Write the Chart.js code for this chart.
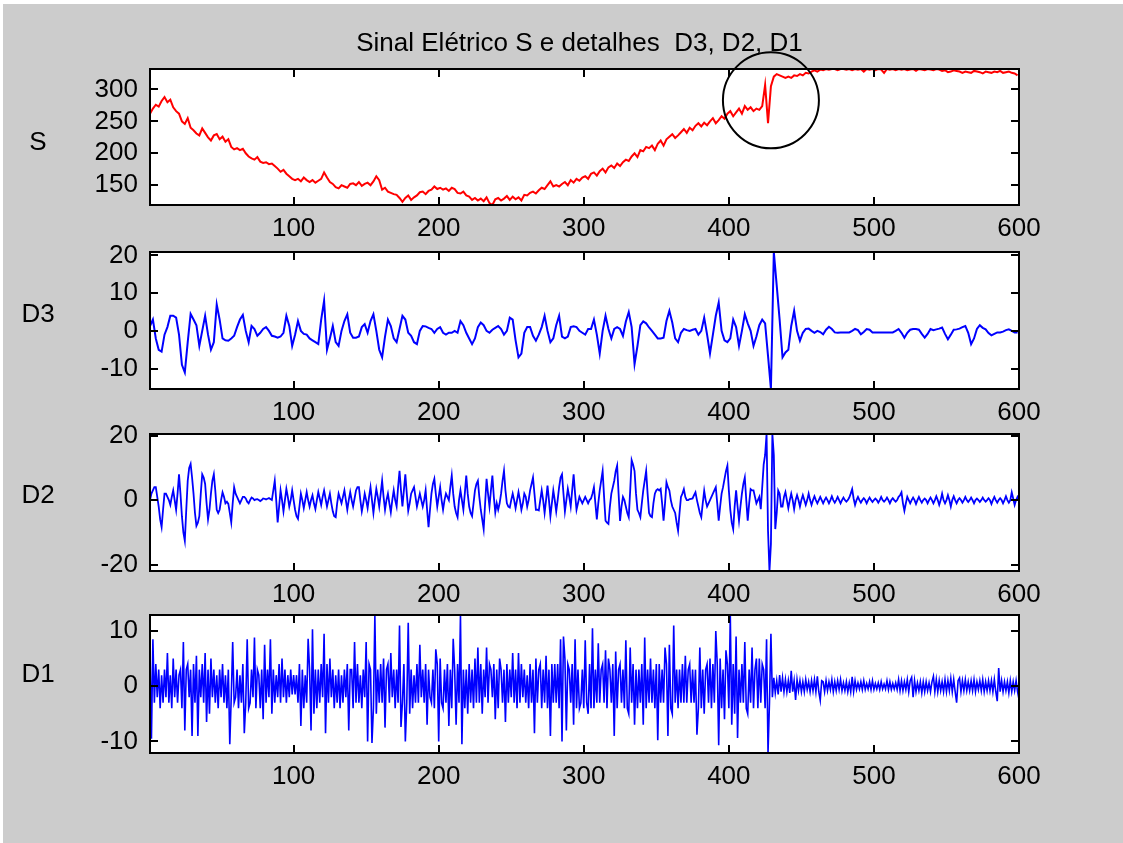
<!DOCTYPE html>
<html>
<head>
<meta charset="utf-8">
<title>Sinal Elétrico S e detalhes D3, D2, D1</title>
<script src="https://cdn.jsdelivr.net/npm/chart.js@4.4.0/dist/chart.umd.min.js"></script>
<style>
  body { margin: 0; background: #ffffff; }
  #fig { position: absolute; left: 3px; top: 4px; width: 1120px; height: 839px; background: #cccccc; }
  canvas { position: absolute; left: 0; top: 0; }
</style>
</head>
<body>
<div id="fig"></div>
<canvas id="cS" width="1123" height="843"></canvas>
<canvas id="cD3" width="1123" height="843"></canvas>
<canvas id="cD2" width="1123" height="843"></canvas>
<canvas id="cD1" width="1123" height="843"></canvas>
<script>
// first sample index; S and D3 keep every other sample, D2 and D1 every sample
const X_START = 1;

const xTicks = [100, 200, 300, 400, 500, 600];

// signal S, samples 1, 3, 5, ... 599
const sValues = [
  262, 270, 276, 273, 282, 288, 280, 284, 272, 266,
  262, 250, 246, 255, 240, 236, 231, 228, 239, 232,
  225, 220, 228, 230, 222, 226, 218, 222, 210, 206,
  208, 205, 207, 200, 195, 192, 190, 194, 187, 185,
  186, 183, 184, 180, 176, 171, 174, 168, 164, 160,
  158, 160, 156, 162, 158, 155, 158, 154, 157, 160,
  170, 162, 155, 152, 147, 145, 150, 148, 146, 152,
  153, 150, 155, 149, 152, 154, 150, 156, 164, 158,
  143, 146, 140, 138, 136, 135, 130, 124, 130, 134,
  127, 131, 134, 139, 140, 136, 141, 143, 148, 144,
  146, 143, 145, 141, 146, 144, 138, 137, 140, 134,
  132, 127, 130, 126, 129, 125, 131, 122, 119, 128,
  130, 126, 129, 133, 127, 132, 128, 131, 126, 135,
  134, 138, 140, 137, 142, 146, 144, 150, 156, 148,
  150, 148, 152, 155, 150, 158, 154, 160, 157, 162,
  164, 160, 168, 170, 165, 172, 176, 170, 178, 181,
  177, 184, 180, 186, 190, 188, 195, 200, 194, 205,
  203, 210, 208, 212, 205, 215, 220, 212, 222, 226,
  230, 224, 228, 233, 238, 232, 240, 236, 243, 247,
  242, 248, 244, 250, 255, 247, 252, 258, 254, 262,
  266, 258, 264, 270, 262, 274, 268, 272, 266, 270,
  268, 274, 307, 247, 305, 320, 324, 322, 320, 318,
  320, 318, 322, 321, 324, 322, 326, 325, 328, 330,
  328, 331, 330, 332, 331, 332, 332, 330, 332, 332,
  331, 332, 330, 332, 331, 332, 328, 332, 331, 332,
  330, 332, 331, 326, 332, 331, 332, 330, 332, 331,
  332, 330, 331, 332, 329, 332, 331, 330, 332, 331,
  330, 332, 331, 329, 330, 327, 328, 330, 329, 328,
  326, 328, 327, 326, 329, 328, 327, 325, 328, 327,
  326, 328, 327, 329, 326, 327, 328, 326, 325, 322
];
const sTicks = [150, 200, 250, 300];

// detail D3, samples 1, 3, 5, ... 599
const d3Values = [
  1.3, 3, -2, -5, -5.5, -1, 1, 4, 4, 3.5,
  -1, -9, -11, -3, 4.5, 3, 1.5, -4, 0, 4,
  -1, -5, -3, 7, 3, -2, -2.5, -2.6, -2, -1.3,
  1, 3, 4.2, 0, -3, 1.3, 0.5, -1.3, -0.5, 0.5,
  1, 0, -1.3, -1.5, -1.8, -1.5, -0.5, 4, 1.3, -4,
  -1, 2.6, 0, -0.8, -1, -2, -2.5, -3, -3.5, 3,
  8, -5, -2, 1.3, -3, -4, 0, 2.6, 4.4, -0.5,
  -1.8, -1.8, -1.5, 1, 1.8, -0.5, 2.6, 4.4, 0, -5,
  -7, -1.5, 3, 1.3, -2, -3, 0.5, 4, 3, -0.5,
  -1.3, -3, -3.5, 0, 1.3, 1.2, 0.8, 0.5, -0.5, 0.5,
  1, -0.5, -1, -0.5, -0.5, 0, -0.5, 2.6, 1.5, -0.5,
  -2, -3.5, -2, 1, 2.2, 1.5, 0, -0.5, 0.3, 0.8,
  1.3, 0.5, -1, 0, 3.5, 3, -2.5, -7, -6, -0.5,
  1, 1, -1.3, -2.6, -1, 1, 4, 0, -3, -2,
  1.5, 4, -1.5, -2, -1.5, 1, 1.2, 1, 0, -0.5,
  -1, 0.5, 0.5, 3, -1, -6, 0, 4, 0.5, -2,
  0.5, 1, 0.5, -1.3, 2.5, 5, 1, -8.8, -4, 1.5,
  2.5, 2, 0.9, 0, -1, -2, -2, -1.8, 2.6, 5.3,
  2.2, -2, -3, -0.5, 0.5, 0.2, 0, 0.3, 0.5, -1,
  0, 3.5, -1, -6, -1, 4, 7.5, 0, -2.5, -3,
  -2, 3, 1, -4, 0, 4.4, 2, 0, -4, -1.5,
  1.5, 3, 2, -6.6, -15.4, 20.9, 12, 3, -7, -5.7,
  -5, 1.3, 5.3, 0, -2.6, -0.5, 0.5, 0.6, 0, -0.5,
  0, -0.3, -0.9, 0.3, 1.1, 0.5, -0.4, -0.5, -0.4, -0.4,
  -0.4, -0.4, 0, 0.5, 0.2, -0.9, -0.3, 0.5, 0.3, -0.4,
  -0.4, -0.4, -0.4, -0.4, -0.4, -0.4, -0.4, 0, 0.5, -0.5,
  -1.8, -0.5, 0.3, 0.5, 0.5, 0.3, -0.8, -1.8, -0.8, 0.5,
  0.2, 0.4, 0.6, 0.9, -0.8, -2.2, -1, 0.3, 0.4, 0.6,
  1, 1.3, -0.5, -3.5, -2, 0.5, 1.5, 0.8, 0.4, -0.6,
  -1.2, -0.8, -0.4, -0.4, -0.2, 0.2, 0.4, 0, -0.4, -0.4
];
const d3Ticks = [-10, 0, 10, 20];

// detail D2, samples 1 ... 600
const d2Values = [
  0, 2, 3, 4, 4, 1, -2, -6, -8.4, -3,
  2, 2, 1, 0, -1.5, 1, 3, 0, -3, 2,
  8, 2, -5, -10, -12.6, -3, 6, 10, 11.2, 7,
  2, -4, -8, -7, -5, 2, 8, 7, 5, -1,
  -6, -3, 2, 6, 8, 3, -3, -4, -3, 0,
  2.4, 1, -1, -0.5, -1.2, -4, -6.9, -1, 4, 2,
  1, 0, -1, 0, 1, 1, 0.5, -0.5, -1, 0,
  0.8, 0.5, 0, 0.2, 0.3, 0, -0.3, 0, 0.5, 0.4,
  0.2, 0.4, 0.6, 0.3, 0, 3, 6, 0, -6.9, -2,
  3, 0, -3.5, 0, 3.5, 1, -2, 0, 3, 0,
  -3, -5, -5.8, -2, 2, 0, -2.5, 0, 2.5, 0,
  -2, 0, 1.5, -1, -2.8, 0, 2.5, 0.5, -1.5, 1,
  3, 0.5, -2, 0, 2, -1, -3.5, -5, -5.3, -1,
  2, 0.5, -1, 1, 3, 0, -3, 0, 2.5, 0,
  -2, 0.5, 3, 4, 4, 0, -3.5, -1, 2, 0,
  -2.5, 1, 4, 0, -4, 0, 3.5, 1, -2, 2,
  6, 1, -3, 0, 2, -1, -3.8, 0, 3, 0,
  -2, 4, 9.1, 3, -2, 3, 8, 2, -3.3, -1,
  2, 3, 4, 1, -2, 0, 2, 0, -2, 0,
  3, -3, -8.4, -3, 2, 5, 6.6, 2, -2, 1,
  4, 0, -3, 0, 2, 1, 0, 4, 7.6, 2,
  -2, -4, -5.3, 0, 3, 0, -3, 2, 7.6, 2,
  -2, -4, -5, -1, 3, 5, 6, 1, -3, -6,
  -9, -1, 6.6, 2, -2, 3, 7.6, 1, -3.8, -1,
  -3, -1, 2, 6, 9.1, 3, -1, -2, -2.3, 0,
  2, 0, -2.5, 0, 2.5, 0, -3, -1, 2, 1,
  -2, 0, 3, 5, 7, 2, -3, -3, -3.2, 0,
  3, 0, -4, 0, 4.5, 0, -5, -1, 3, 0,
  -3.5, 0, 4, 7, 8, 2, -3.5, 0, 3.5, 1,
  -2, 3, 8, 2, -3, -1, 1, 0, -1, 0,
  1, 0, -1, 0, 0.5, 2, 4, -1, -6, -1,
  3, 6, 9, 1, -6.4, -7, -7.4, -2, 2, 4,
  6, 9, 10.7, 2, -6.5, -2, 1, 0, -2, -4,
  -5.3, 3, 12.4, 11, 9, 2, -3, -4, -5.3, -1,
  3, 6, 9, 2, -4, -5, -5.3, -1, 2, 3,
  3.4, 3, 3.5, -1, -6.4, -1, 5.5, 4, 3, 0,
  -2, -3, -4, -7, -9.5, -4, 1, 2, 3.4, 1,
  0, 0, 0.3, 0.4, 0.5, 1.5, 2.4, 0, -2, -4,
  -5.3, -1, 2.9, 0, -2, -1, 0, 1, 2, 3,
  4, -1, -6.4, -2, 2, 4, 6.5, 9, 10.7, 3,
  -3, -7, -9, -2, 3, -2, -6.4, -2, 2, 5,
  7, 0, -6.4, -1, 3.4, 3, 3, 1, -1, 0,
  1, -2.8, 4, 11, 14, 20.5, -9.5, -22, -13.6, 20.5,
  14, -9, -4, 3, 2, -2, -2, 1, 2.5, 0,
  -2.5, 0, 2, 0, -2.8, 0, 1.5, 0, -2, 0,
  1.5, 0, -1.5, 0, 2, 0, -1.5, 0, 1.2, 0,
  -1, 0, 1, 0, -1, 0, 0.8, 0, -1, 0,
  1.2, 0, -0.8, 0, 1, 0, -1, 0, 0.8, 0,
  -0.5, 0, 0.8, 2, 3.4, 0.5, -1.5, 0, 1, 0,
  -0.8, 0, 0.6, 0, -1, 0, 0.8, 0, -0.6, 0,
  0.5, 0, -0.8, 0, 1, 0, -0.5, 0, 0.8, 0,
  -1, 0, 0.6, 0, -0.5, 0, 1, 1.5, 2.4, -1,
  -3.3, -1, 1, 0, -1, 0, 0.8, 0, -1.2, 0,
  1, 0, -0.8, 0, 0.5, 0, -1, 0, 0.8, 0,
  -1, 0, 1.2, 0, -1.5, 0, 2, 0, -1, 0,
  1.5, 0, -2, 0, 1.2, 0, -1, 0, 0.6, 0,
  -0.8, 0, 1, 0, -0.6, 0, 0.8, 0, -1, 0,
  0.5, 0, -0.6, 0, 0.8, 0, -0.5, 0, 0.6, 0,
  -1.2, 0, 1, 0, -0.8, 0, 0.6, 0, -1, 0,
  1.2, 0, -0.8, 0, 2.4, 0.5, -1.5, 0, 1, 0
];
const d2Ticks = [-20, 0, 20];

// detail D1, samples 1 ... 600
const d1Values = [
  7, -9.5, 8.5, -3, 4, -2, 3, -4, 2, -3,
  3, -2, 6, -3, 2, -4, 5, -2, 3, -3,
  2, 3, -4, 8, -8, 3, 4, -2, 3, -9,
  4, -3, 5.5, -9, 3, -2, 4, -3, 6, -6.5,
  3, -5, 5, -2, 3, -3, 2, -4, 3, -2,
  4, -3, 2, -4, 3, -10.5, -2, 8, -3, -2,
  3, -4, 2, -3, 4, -8.5, -3, 8.5, -4, -3,
  3, -2, 8.8, -4, 3, 2, -4, 3, -6, 7.5,
  -3, 3, -2, 8.5, -5, 3, -3, 2, -2, 4,
  -3, 5, -2, 3, -3, 2, -2, 3, -1.5, 2,
  -1.5, 2, -3, 4, -7.2, 3, -4, 2, -3, 8.6,
  3, -8, 10.3, -5, 3, -4, 3, -3, 4, -2,
  9.5, -8.5, 4, -3, 5, -2, 3, -4, 2, -3,
  3, -4, 2, -3, 3, -2, 4, -8, 3, 3,
  -4, 8, -3, 4, -3, 2, -4, 3, -2, 8,
  -10, 4, 3, -10.3, -4, 12.9, -5, 3, -3, 4,
  -3, 5, -7.5, 3, 4, -3, 6, -2, 3, -4,
  3, -3, 11, -7.4, -3, 4, -10, -3, 11.5, -5,
  3, -4, 2, -3, 4, -3, 7.5, -2, 3, -3,
  4, -7, 3, -2, -3, 3, -4, 6.7, 4, -10,
  5, -3, -4, 3, -3, 4, -7.2, 3, -4, 8.6,
  3, -7, 4, -3, 12.9, -10.5, 3, -4, 3, -5,
  4, -3, 3, -4, 5, -3, 7, -3, 4, -5,
  3, -2, 7, -3, 4, 3, -2, 4, -6, 3,
  -4, 5, 3, -3, 3, -6.5, 4, -3, 3, -2,
  6, -3, 3, -4, 6, -3, 4, -2, 3, -3,
  2, -4, 4, -3, 3, -8.5, 5, -3, 3, 4,
  -4, 3, -3, 5.5, -4, 3, -9, 4, -3, 4,
  -3, 4, -4, 8.5, -10, 9, 5, -8, 4, 3,
  -3, 4, -7, 8.5, -4, 3, -4, -3, 3, -4,
  8.3, -3, -5, 4, -4, 10.5, -4, 3, -3, 7.8,
  -3, 3, 4, -3, 6.5, -4, 5, 3, -3, 4,
  -9, 6.3, -4, 3, 4, -3, 3, -4, 8.3, -4,
  -5, 7, -3, 4, -7, 3, -4, 3, -3, 4,
  -7, 8.8, -4, 3, -3, 5, -3, 3, -4, 4,
  -9.8, 4, -3, 3, -3, 7, 4, -9, 7.5, -4,
  -5, 11, -3, 3, -4, 3, -3, 4, -3, 5.5,
  -3, 3, 4, -3, 3, -3, 3, -8.8, -4, 7,
  -4, 3, -5, 3, 4, -3, 5, -4, 4, -3,
  10, 4, -10.7, 5, -4, 3, -6, 6.5, 4, -4,
  12.9, -7, 4, -5, 9, -9.4, 3, -3, 4, -3,
  8, -4, -5, 3, -3, 7, -4, 3, 5, -4,
  5, -3, 4, 3, -4, 8.5, -12.1, -3, 9.5, -2,
  1.5, -1.2, 1, -1.5, 2, -1, 1.5, -1, 1.2, -1,
  1, -1.2, 2.8, -1, 1, -2.5, 1.2, -0.8, 1, -1,
  0.8, -1, 1.2, -0.6, 0.8, -1, 1, -0.8, 1.2, -1,
  1.8, -1, -2.6, 1, 0.8, -1, 1, -0.8, 0.8, -0.6,
  1.2, -1, 0.8, -0.8, 1, -0.6, 1.2, -0.8, 0.6, -0.8,
  0.8, -1, 0.6, -1, 1.7, -1, 1, -0.6, 0.6, -0.5,
  0.8, -0.6, 1, -0.6, 0.5, -0.5, 0.8, -0.6, 1, -0.6,
  0.5, -0.5, 0.6, -0.6, 0.8, -0.5, 0.4, -0.5, 1, -0.6,
  0.8, -0.6, 0.5, -0.5, 0.6, -0.6, 1.2, -0.8, 1, -0.8,
  0.8, -0.6, 1.2, -1, 1, 1.6, -2, 1, -1, 0.6,
  -0.8, 0.8, -1.2, 0.8, -1, 0.8, -0.8, 0.6, -1, 0.8,
  1.8, -1, 1.2, -1, 1, -0.8, 0.8, -1, 1.2, -1,
  1, -0.8, 1.4, -1, 1.2, -1, -3, 1, 1.5, -1,
  1, -0.8, 1.2, -0.8, 0.8, -0.8, 1, -0.8, 1.2, -1,
  0.8, -0.6, 1, -0.8, 1.2, -1, 0.8, -0.8, 1, -0.8,
  1, -1, 1.2, -1, -2.7, 3.3, -1, 1, -1, 0.8,
  -0.8, 0.8, -1.2, 1, -1, 0.8, -0.8, 1, -1, -2.4
];
const d1Ticks = [-10, 0, 10];

const titleText = 'Sinal Elétrico S e detalhes  D3, D2, D1';

// figure layout (pixels)
const FIG_W = 1123, FIG_H = 843;
const PLOT_LEFT = 150, PLOT_RIGHT = 1019;
const XAXIS_H = 45;
const TICK_LEN = 8;
const NAME_X = 38;
const FONT = '26px "Liberation Sans", Arial, sans-serif';
const fontSpec = { family: '"Liberation Sans", Arial, sans-serif', size: 26 };

const panels = [
  { id: 'cS',  name: 'S',  values: sValues,  step: 2, ticks: sTicks,  color: '#ff0000', width: 2,   top: 69,  bottom: 205, nameY: 143, title: titleText,
    mark: { x: 429, y: 283, r: 48 } },
  { id: 'cD3', name: 'D3', values: d3Values, step: 2, ticks: d3Ticks, color: '#0000ff', width: 2,   top: 252, bottom: 389, nameY: 315 },
  { id: 'cD2', name: 'D2', values: d2Values, step: 1, ticks: d2Ticks, color: '#0000ff', width: 1.8, top: 434, bottom: 571, nameY: 496 },
  { id: 'cD1', name: 'D1', values: d1Values, step: 1, ticks: d1Ticks, color: '#0000ff', width: 1.6, top: 615, bottom: 753, nameY: 675 }
];

// white axes box, inward ticks on all four sides, axis name, title and the circle mark
const framePlugin = {
  id: 'frame',
  beforeDraw(chart) {
    const a = chart.chartArea, ctx = chart.ctx;
    ctx.save();
    ctx.fillStyle = '#ffffff';
    ctx.fillRect(a.left, a.top, a.right - a.left, a.bottom - a.top);
    ctx.restore();
  },
  afterDraw(chart, args, opts) {
    const ctx = chart.ctx, a = chart.chartArea;
    const xs = chart.scales.x, ys = chart.scales.y;
    ctx.save();
    ctx.strokeStyle = '#000000';
    ctx.lineWidth = 2;
    ctx.strokeRect(a.left, a.top, a.right - a.left, a.bottom - a.top);
    ctx.beginPath();
    xs.ticks.forEach(t => {
      const px = Math.round(xs.getPixelForValue(t.value));
      ctx.moveTo(px, a.bottom); ctx.lineTo(px, a.bottom - TICK_LEN);
      ctx.moveTo(px, a.top);    ctx.lineTo(px, a.top + TICK_LEN);
    });
    ys.ticks.forEach(t => {
      const py = Math.round(ys.getPixelForValue(t.value));
      ctx.moveTo(a.left, py);  ctx.lineTo(a.left + TICK_LEN, py);
      ctx.moveTo(a.right, py); ctx.lineTo(a.right - TICK_LEN, py);
    });
    ctx.stroke();

    ctx.fillStyle = '#000000';
    ctx.font = FONT;
    ctx.textAlign = 'center';
    ctx.textBaseline = 'middle';
    ctx.fillText(opts.name, NAME_X, opts.nameY);
    if (opts.title) {
      ctx.fillText(opts.title, (a.left + a.right) / 2 - 5, a.top - 25);
    }
    if (opts.mark) {
      const cx = xs.getPixelForValue(opts.mark.x);
      const cy = ys.getPixelForValue(opts.mark.y);
      ctx.beginPath();
      ctx.arc(cx, cy, opts.mark.r, 0, Math.PI * 2);
      ctx.lineWidth = 2;
      ctx.stroke();
    }
    ctx.restore();
  }
};

function makePanel(p) {
  const points = p.values.map((v, i) => ({ x: X_START + i * p.step, y: v }));
  return new Chart(document.getElementById(p.id), {
    type: 'line',
    data: {
      datasets: [{
        data: points,
        borderColor: p.color,
        borderWidth: p.width,
        pointRadius: 0,
        tension: 0,
        fill: false
      }]
    },
    options: {
      responsive: false,
      animation: false,
      events: [],
      layout: {
        padding: { top: p.top, bottom: FIG_H - p.bottom - XAXIS_H, left: 0, right: FIG_W - PLOT_RIGHT }
      },
      plugins: {
        legend: { display: false },
        tooltip: { enabled: false },
        frame: { name: p.name, nameY: p.nameY, title: p.title, mark: p.mark }
      },
      scales: {
        x: {
          type: 'linear',
          min: 1,
          max: 600,
          afterBuildTicks: s => { s.ticks = xTicks.map(v => ({ value: v })); },
          afterFit: s => { s.height = XAXIS_H; },
          grid: { display: false },
          border: { display: false },
          ticks: { font: fontSpec, color: '#000000', padding: 0, maxRotation: 0, autoSkip: false }
        },
        y: {
          type: 'linear',
          min: Math.min(...p.values),
          max: Math.max(...p.values),
          afterBuildTicks: s => { s.ticks = p.ticks.map(v => ({ value: v })); },
          afterFit: s => { s.width = PLOT_LEFT; },
          grid: { display: false },
          border: { display: false },
          ticks: { font: fontSpec, color: '#000000', padding: 4, autoSkip: false }
        }
      }
    },
    plugins: [framePlugin]
  });
}

panels.forEach(makePanel);
</script>
</body>
</html>
